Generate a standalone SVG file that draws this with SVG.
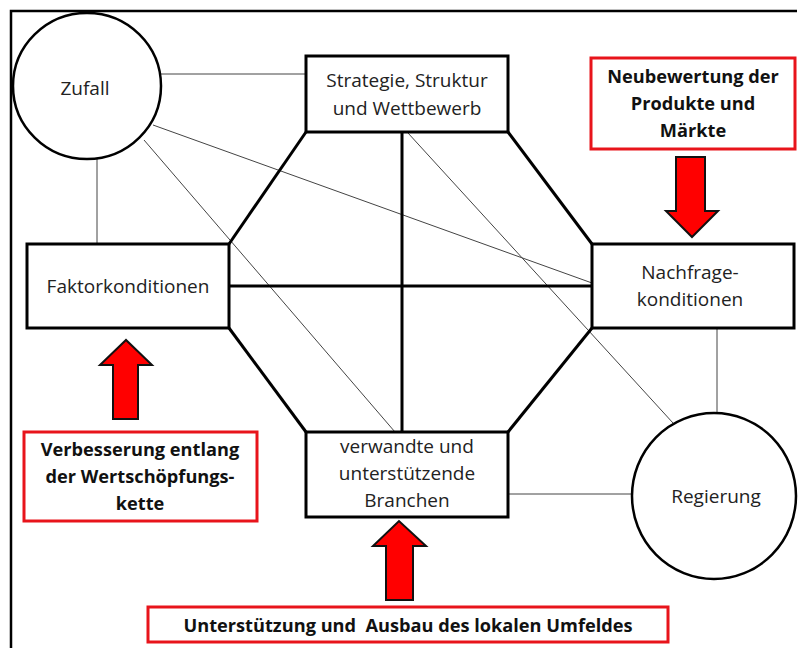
<svg xmlns="http://www.w3.org/2000/svg" width="798" height="648" viewBox="0 0 798 648">
<style>
.box{fill:#fff;stroke:#000;stroke-width:3}
.rbox{fill:#fff;stroke:#e8141b;stroke-width:3}
.circ{fill:#fff;stroke:#000;stroke-width:2.5}
.thick{stroke:#000;stroke-width:3;fill:none}
.thin{stroke:#444;stroke-width:1;fill:none}
.arrow{fill:#ff0000;stroke:#111;stroke-width:2;stroke-linejoin:miter}
.t{font-family:"Open Sans","Noto Sans",sans-serif;font-size:19px;fill:#222;text-anchor:middle}
.b{font-family:"Open Sans","Noto Sans",sans-serif;font-size:18.2px;font-weight:bold;fill:#111;text-anchor:middle;white-space:pre}
</style>
<rect width="798" height="648" fill="#fff"/>
<g id="frame">
<path d="M11 648 V11 H797" stroke="#000" stroke-width="2.5" fill="none"/>
</g>
<g id="connectors">
<line class="thin" x1="161" y1="74" x2="306" y2="74"/>
<line class="thin" x1="97" y1="158" x2="97" y2="244"/>
<line class="thin" x1="153" y1="125" x2="592" y2="283"/>
<line class="thin" x1="144" y1="140" x2="395" y2="432"/>
<line class="thin" x1="408" y1="133" x2="673" y2="423"/>
<line class="thin" x1="508" y1="494" x2="632" y2="494"/>
<line class="thin" x1="717" y1="328" x2="717" y2="412"/>
<line class="thick" x1="306" y1="132" x2="229" y2="244"/>
<line class="thick" x1="508" y1="132" x2="592" y2="244"/>
<line class="thick" x1="229" y1="328" x2="306" y2="432"/>
<line class="thick" x1="592" y1="328" x2="508" y2="432"/>
<line class="thick" x1="229" y1="286" x2="592" y2="286"/>
<line class="thick" x1="402" y1="132" x2="402" y2="432"/>
</g>
<g id="zufall">
<ellipse class="circ" cx="87" cy="86" rx="74" ry="73"/>
<text class="t" x="85" y="95">Zufall</text>
</g>
<g id="strategie">
<rect class="box" x="306" y="56" width="202" height="76"/>
<text class="t" x="407" y="87">Strategie, Struktur</text>
<text class="t" x="407" y="115">und Wettbewerb</text>
</g>
<g id="neubewertung">
<rect class="rbox" x="591" y="58" width="204" height="91"/>
<text class="b" x="693" y="83">Neubewertung der</text>
<text class="b" x="693" y="110">Produkte und</text>
<text class="b" x="693" y="137">Märkte</text>
</g>
<g id="arrow-down">
<path class="arrow" d="M676 157 H705 V211 H718 L692 237 L666 211 H676 Z"/>
</g>
<g id="nachfrage">
<rect class="box" x="592" y="244" width="202" height="84"/>
<text class="t" x="690" y="279">Nachfrage-</text>
<text class="t" x="690" y="306">konditionen</text>
</g>
<g id="faktor">
<rect class="box" x="27" y="244" width="202" height="84"/>
<text class="t" x="128" y="293">Faktorkonditionen</text>
</g>
<g id="arrow-left-up">
<path class="arrow" d="M113 419 V365 H100 L126 340 L152 365 H138 V419 Z"/>
</g>
<g id="verbesserung">
<rect class="rbox" x="24" y="432" width="233" height="89"/>
<text class="b" x="140" y="456">Verbesserung entlang</text>
<text class="b" x="140" y="483">der Wertschöpfungs-</text>
<text class="b" x="140" y="510">kette</text>
</g>
<g id="verwandte">
<rect class="box" x="306" y="432" width="202" height="85"/>
<text class="t" x="407" y="453">verwandte und</text>
<text class="t" x="407" y="480">unterstützende</text>
<text class="t" x="407" y="507">Branchen</text>
</g>
<g id="arrow-bottom-up">
<path class="arrow" d="M386 600 V546 H373 L399 521 L426 546 H413 V600 Z"/>
</g>
<g id="unterstuetzung">
<rect class="rbox" x="148" y="607" width="520" height="35"/>
<text class="b" x="408" y="632" xml:space="preserve">Unterstützung und  Ausbau des lokalen Umfeldes</text>
</g>
<g id="regierung">
<ellipse class="circ" cx="714" cy="496" rx="82" ry="83"/>
<text class="t" x="716" y="503">Regierung</text>
</g>
</svg>
